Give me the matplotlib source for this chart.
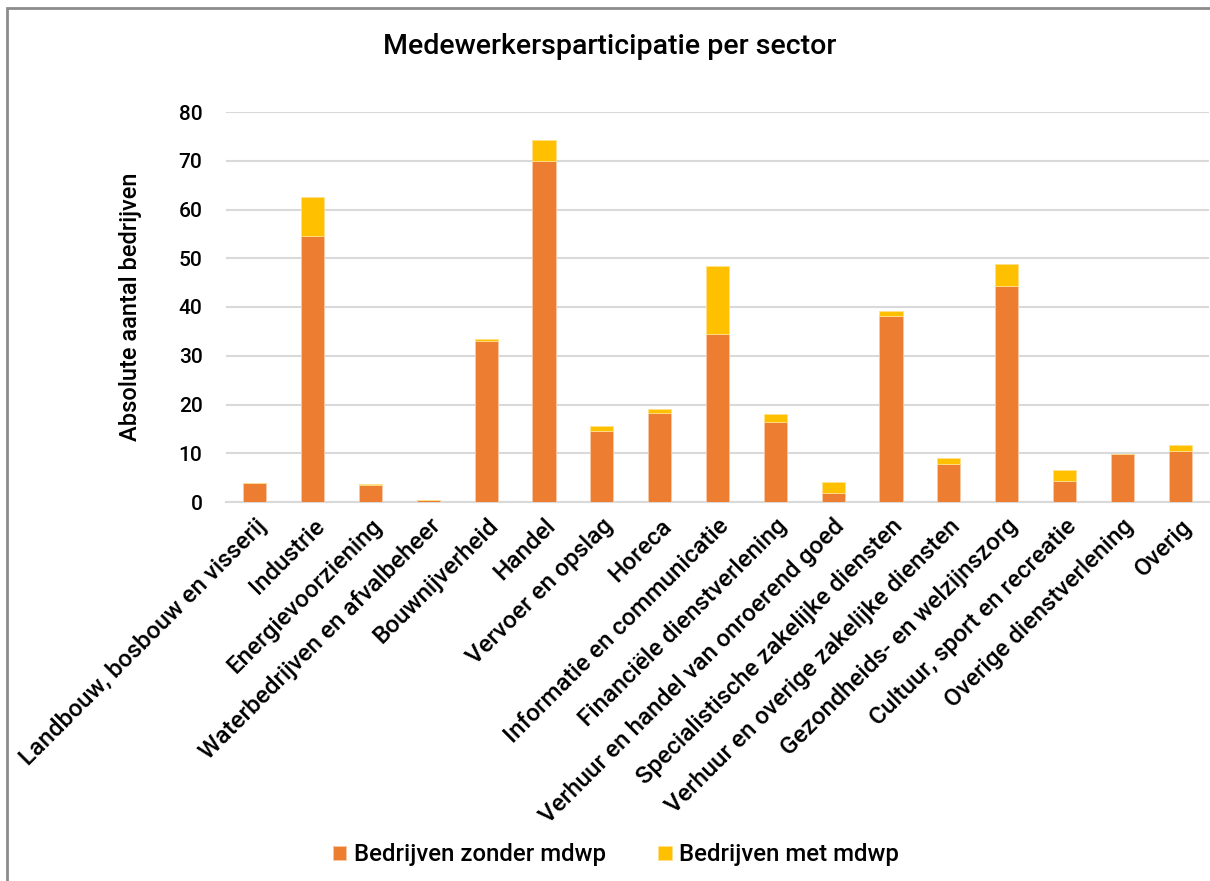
import matplotlib
matplotlib.use("Agg")
import matplotlib.pyplot as plt
from matplotlib.patches import Rectangle
import numpy as np

plt.rcParams['font.family'] = ['Roboto', 'DejaVu Sans']

categories = [
    "Landbouw, bosbouw en visserij", "Industrie", "Energievoorziening",
    "Waterbedrijven en afvalbeheer", "Bouwnijverheid", "Handel",
    "Vervoer en opslag", "Horeca", "Informatie en communicatie",
    "Financiële dienstverlening", "Verhuur en handel van onroerend goed",
    "Specialistische zakelijke diensten", "Verhuur en overige zakelijke diensten",
    "Gezondheids- en welzijnszorg", "Cultuur, sport en recreatie",
    "Overige dienstverlening", "Overig",
]
zonder_mdwp = [3.9, 54.6, 3.4, 0.5, 33.0, 70.0, 14.5, 18.2, 34.5, 16.4, 1.85,
               38.1, 7.85, 44.4, 4.4, 9.75, 10.4]
met_mdwp = [0.0, 8.0, 0.35, 0.0, 0.4, 4.3, 1.1, 0.9, 13.9, 1.7, 2.35,
            1.1, 1.1, 4.4, 2.15, 0.0, 1.35]
yticks = [0, 10, 20, 30, 40, 50, 60, 70, 80]

W, H = 1210, 881
fig = plt.figure(figsize=(W / 100, H / 100), dpi=100)
ax = fig.add_axes([226 / W, 1 - 502 / H, (1209 - 226) / W, (502 - 112) / H])

x = np.arange(len(categories))
c1, c2 = "#ED7D31", "#FFC000"
ax.bar(x, zonder_mdwp, width=0.4, color=c1, edgecolor="#F8C8A8", linewidth=0.6,
       label="Bedrijven zonder mdwp", zorder=3)
ax.bar(x, met_mdwp, width=0.4, bottom=zonder_mdwp, color=c2, edgecolor="#FFE08A",
       linewidth=0.6, label="Bedrijven met mdwp", zorder=3)

ax.set_xlim(-0.5, len(categories) - 0.5)
ax.set_ylim(0, 80)
ax.set_yticks(yticks)
ax.set_yticklabels([str(v) for v in yticks], fontsize=15, fontweight="medium")
ax.grid(axis="y", color="#D9D9D9", linewidth=1.5, zorder=0)
for s in ["top", "right", "left"]:
    ax.spines[s].set_visible(False)
ax.spines["bottom"].set_color("#D9D9D9")
ax.spines["bottom"].set_linewidth(1.5)
ax.tick_params(axis="both", length=0)
ax.tick_params(axis="y", pad=17)

ax.set_xticks(x)
ax.set_xticklabels(categories, rotation=45, ha="right", va="top",
                   rotation_mode="anchor", fontsize=17.5, fontweight="medium")
ax.tick_params(axis="x", pad=9)

fig.text(131 / W, 1 - 307 / H, "Absolute aantal bedrijven", rotation=90,
         ha="center", va="center", fontsize=17, fontweight="medium")

fig.text(610 / W, 1 - 47 / H, "Medewerkersparticipatie per sector",
         ha="center", va="center", fontsize=20.5, fontweight="medium")

fig.legend(loc="center", bbox_to_anchor=(616 / W, 1 - 855 / H), ncol=2,
           frameon=False, handlelength=0.55, handleheight=0.55,
           handletextpad=0.3, columnspacing=2.2,
           prop={"size": 17.3, "weight": "medium"})

fig.patches.append(Rectangle((7 / W, -0.1), 1.2, 1 - 8 / H + 0.1,
                             transform=fig.transFigure, fill=False,
                             edgecolor="#8C8C8C", linewidth=2))

fig.savefig("out.png", dpi=100, facecolor="white")
